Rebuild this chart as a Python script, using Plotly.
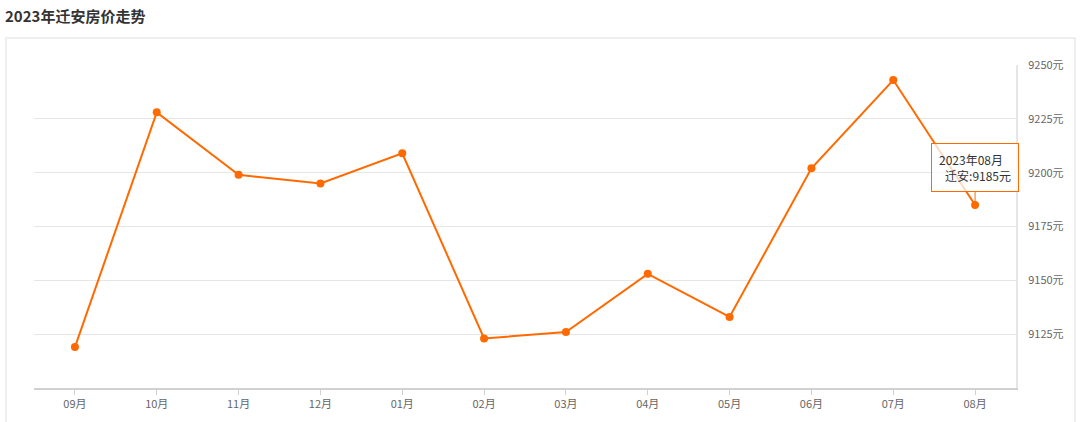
import plotly.graph_objects as go

months = ["09月", "10月", "11月", "12月", "01月", "02月", "03月", "04月", "05月", "06月", "07月", "08月"]
prices = [9119, 9228, 9199, 9195, 9209, 9123, 9126, 9153, 9133, 9202, 9243, 9185]
y_ticks = [9125, 9150, 9175, 9200, 9225, 9250]
y_tick_text = [f"{v}元" for v in y_ticks]
title_text = "2023年迁安房价走势"
tooltip_month = "2023年08月"
city = "迁安"

LINE = "#FF6A00"
FONT = "Noto Sans CJK SC, Microsoft YaHei, sans-serif"

fig = go.Figure()
fig.add_trace(go.Scatter(
    x=months, y=prices, mode="lines+markers",
    line=dict(color=LINE, width=2),
    marker=dict(color=LINE, size=8),
    hoverinfo="skip", showlegend=False,
))

# tooltip for last point
fig.add_annotation(
    x=months[-1], y=prices[-1], xref="x", yref="y",
    text=f"{tooltip_month}&nbsp;&nbsp;&nbsp;<br>{city}:{prices[-1]}元",
    showarrow=True, arrowhead=0, arrowwidth=1, arrowcolor=LINE,
    ax=0, ay=-13, axref="pixel", ayref="pixel",
    yanchor="bottom", align="right",
    bgcolor="rgba(255,255,255,0.75)", bordercolor=LINE, borderwidth=1, borderpad=7,
    font=dict(family=FONT, size=12, color="#333333"),
)

# outer panel box
fig.add_shape(type="rect", xref="paper", yref="paper",
              x0=-0.0285, x1=1.06, y0=-0.3, y1=1.0836,
              line=dict(color="#EEEEEE", width=2), layer="below")

fig.update_layout(
    width=1080, height=422,
    margin=dict(l=34, r=64, t=65, b=34),
    paper_bgcolor="white", plot_bgcolor="white",
    font=dict(family=FONT, size=11, color="#666666"),
    title=dict(text=f"<b>{title_text}</b>", x=5 / 1080, xref="container", xanchor="left",
               y=1 - 17 / 422, yref="container", yanchor="middle",
               font=dict(family=FONT, size=15, color="#333333")),
    xaxis=dict(
        type="category", range=[-0.5, len(months) - 0.5],
        showgrid=False, showline=True, linecolor="#D0D0D0", linewidth=2,
        ticks="outside", ticklen=5, tickcolor="#D0D0D0",
        tickfont=dict(size=11, color="#666666"), zeroline=False,
    ),
    yaxis=dict(
        side="right", range=[9100, 9250],
        tickvals=y_ticks, ticktext=y_tick_text,
        showgrid=True, gridcolor="#E6E6E6", gridwidth=1,
        showline=True, linecolor="#E6E6E6", linewidth=2,
        ticks="", ticklabelstandoff=8,
        tickfont=dict(size=11, color="#666666"), zeroline=False,
    ),
)

fig.write_html("out.html", config={"displayModeBar": False},
               post_script="document.body.style.margin='0';document.body.style.overflow='hidden';")
